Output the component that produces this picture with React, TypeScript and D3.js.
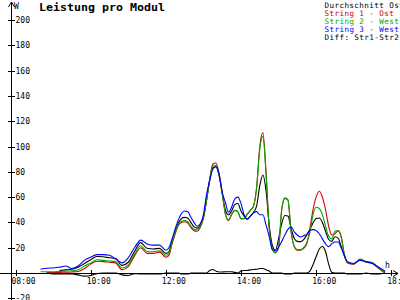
import React from "react";
import * as d3 from "d3";

const TIMES = [
  "08:40","08:50","09:00","09:10","09:20","09:30","09:40","09:50","10:00","10:10","10:20","10:30","10:40","10:50","11:00","11:10","11:20","11:30","11:40","11:50","12:00",
  "12:05","12:10","12:15","12:20","12:25","12:30","12:35","12:40","12:45","12:50","12:55","13:00","13:05","13:10","13:15","13:20","13:25","13:30","13:35","13:40","13:45","13:50","13:55",
  "14:00","14:05","14:10","14:15","14:20","14:25","14:30","14:35","14:40","14:45","14:50","14:55","15:00","15:05","15:10","15:15","15:20","15:25","15:30","15:35","15:40","15:45","15:50","15:55",
  "16:00","16:05","16:10","16:15","16:20","16:25","16:30","16:35","16:40","16:45","16:50",
  "17:00","17:10","17:20","17:30","17:40","17:50",
];

const AVG_OST = [
  null,null,null,2,2.5,3,4.5,7.5,10.5,13,12.8,12,11.5,6,8.5,17,24,19.5,19,19.5,15.5,
  17,25,33,39.5,43,44,43.5,40,36.5,35.5,38,44,58,73,83,84,77,63,50,46,49,54,55,
  49,45,42.5,45,48,53,69,77.5,65,38,22,18,27,39,45.5,45,35,27.5,25,24.8,26.4,30,34.5,39.6,
  43,43.5,40,33,26.5,25,28.6,27.5,21,13.5,8.5,
  7.2,10.5,8.8,7.8,4,0.8,
];

const STRING1_OST = [
  null,0.3,0.3,0.5,0.6,0.8,1.2,3.5,7,9.3,9,8.5,8,2.5,5,13.5,20,15.5,15.5,16.5,12.5,
  14,23,31,37.5,40,40.5,39.5,36,33.5,33,36,43,57,74,86,87,79,64,47,41.5,46,49.5,48.5,
  43,43,46.5,49.5,53,68,100,111,80,36,19,16,20,50,59,57.5,33,21,18,18,19.5,23,35,50,
  60,64.6,60,50,37,30,31,33.5,29,15,8,
  7,10.5,8.5,7.5,3.5,0,
];

const STRING2_WEST = [
  1,1,1,1.2,1.5,1.8,2.5,5.5,8,10.5,10,9.5,9,4,6.5,15,21.5,17,16.8,17.5,14,
  15.5,24.5,32.5,38.5,41,41.5,40.5,37,34.5,34,37,44,57.5,73.5,84.5,85,78,63,47,42,46.5,49.5,48.5,
  43,43,46.5,49.5,53,67,98,108,78,36,19,16,20,50,59.4,58,33,21,18.5,18.5,20,24,32,46,
  52,51,46,37,29,27,33,33.5,28,14.5,8.5,
  7.5,11,9,8,4,0.6,
];

const STRING3_WEST = [
  3,3.8,4,4.5,5.5,3.5,5.5,10,12.5,14.5,14.5,14,11,8,12,20,26,23,22,22,18,
  20,27,35,42,47,49,48.5,44,40,37,39,46,62,73,82,84,78,64,56,48,52,58.5,60,
  55,46,42.5,45,47.5,48.5,46,46,38,29,18.5,17.5,20.5,25,30,34.5,36.5,32.5,30,28.5,29.5,30.5,33.5,34.3,
  33.5,31,27,23,20.7,23,24.5,24.5,20,14,9,
  7.5,10,9,7.5,4.5,1.5,
];

const DIFF_STR1_STR2 = [
  null,0,-0.8,-0.8,-0.8,-0.8,-1.5,-2.5,-2,-0.5,0,0,0,-1.5,-2,-0.5,-0.8,-0.8,-0.8,-0.8,0,
  0,0,0,0,-0.8,-0.8,-0.8,0,0,0,0,0,0,2,2.8,1.5,0.8,0.8,1,1,1,0.5,0,
  1.5,2,2,2.5,2.8,3,3.5,3.5,2.5,1.5,0,0,0,0,-0.8,-0.8,-0.8,0,0,0,0,0,1.5,6.5,
  13,19,21,17,7,0.5,0,0,0,0,-0.8,
  -0.8,-0.8,0,-0.8,-0.8,0,
];

const SERIES = [
  { name: "Durchschnitt Ost", values: AVG_OST, color: "#000000" },
  { name: "String 1 - Ost", values: STRING1_OST, color: "#cc0000" },
  { name: "String 2 - West", values: STRING2_WEST, color: "#00aa00" },
  { name: "String 3 - West", values: STRING3_WEST, color: "#0000ff" },
  { name: "Diff: Str1-Str2", values: DIFF_STR1_STR2, color: "#000000" },
];

const LEGEND_LABELS = ["Durchschnitt Ost", "String 1 - Ost", "String 2 - West", "String 3 - West", "Diff: Str1-Str2"];
const LEGEND_COLORS = ["#000000", "#cc0000", "#00aa00", "#0000ff", "#000000"];

const Y_TICKS = [-20, 20, 40, 60, 80, 100, 120, 140, 160, 180, 200];
const X_TICKS = [8, 10, 12, 14, 16, 18];
const X_TICK_LABELS = ["08:00", "10:00", "12:00", "14:00", "16:00", "18:00"];

const TITLE = "Leistung pro Modul";
const FONT = "'DejaVu Sans Mono', monospace";

function toHours(s: string) {
  const [h, m] = s.split(":").map(Number);
  return h + m / 60;
}

export default function App() {
  const W = 400, H = 300;
  const x = d3.scaleLinear().domain([8, 18]).range([15.5, 391.3]);
  const y = d3.scaleLinear().domain([0, 200]).range([273, 20]);
  const hours = TIMES.map(toHours);

  const line = d3
    .line<number | null>()
    .defined((d) => d !== null && d !== undefined)
    .x((_, i) => x(hours[i]))
    .y((d) => y(d as number))
    .curve(d3.curveMonotoneX);

  const axisX = 11;
  const axisY = y(0);

  return (
    <svg
      width={W}
      height={H}
      style={{ position: "fixed", left: 0, top: 0, background: "#fff" }}
      fontFamily={FONT}
    >
      <rect x={0} y={0} width={W} height={H} fill="#ffffff" />

      {SERIES.map((s) => (
        <path
          key={s.name}
          d={line(s.values as (number | null)[]) || ""}
          fill="none"
          stroke={s.color}
          strokeWidth={1.1}
          strokeLinejoin="round"
        />
      ))}

      <line x1={axisX + 0.5} y1={2} x2={axisX + 0.5} y2={H} stroke="#000" strokeWidth={1} shapeRendering="crispEdges" />
      <path d={`M${axisX - 2.5},${7} L${axisX + 0.5},${2} L${axisX + 3.5},${7}`} fill="none" stroke="#000" strokeWidth={1} />
      <text x={14} y={9} fontSize={8} fill="#000">W</text>
      {Y_TICKS.map((t) => (
        <g key={t}>
          <line x1={8} x2={15} y1={Math.round(y(t)) + 0.5} y2={Math.round(y(t)) + 0.5} stroke="#000" strokeWidth={1} shapeRendering="crispEdges" />
          <text x={15.5} y={y(t) + 3} fontSize={8} fill="#000">{t}</text>
        </g>
      ))}

      <line x1={0} y1={axisY + 0.5} x2={398} y2={axisY + 0.5} stroke="#000" strokeWidth={1} shapeRendering="crispEdges" />
      <path d={`M393,${axisY - 2.5} L398,${axisY + 0.5} L393,${axisY + 3.5}`} fill="none" stroke="#000" strokeWidth={1} />
      <text x={385} y={268} fontSize={8} fill="#000">h</text>
      {X_TICKS.map((t, i) => (
        <g key={t}>
          <line x1={Math.round(x(t)) + 0.5} x2={Math.round(x(t)) + 0.5} y1={axisY - 3} y2={axisY + 3} stroke="#000" strokeWidth={1} shapeRendering="crispEdges" />
          <text x={x(t) - 4} y={284} fontSize={8} fill="#000">{X_TICK_LABELS[i]}</text>
        </g>
      ))}

      <text x={39} y={10.5} fontSize={11} fontWeight="bold" fill="#000" textLength={126} lengthAdjust="spacingAndGlyphs">
        {TITLE}
      </text>

      {LEGEND_LABELS.map((l, i) => (
        <text
          key={l}
          x={324.5}
          y={7.5 + i * 8}
          fontSize={7.6}
          fill={LEGEND_COLORS[i]}
          textLength={l.length * 4.95}
          lengthAdjust="spacing"
          style={{ whiteSpace: "pre" }}
        >
          {l}
        </text>
      ))}
    </svg>
  );
}
